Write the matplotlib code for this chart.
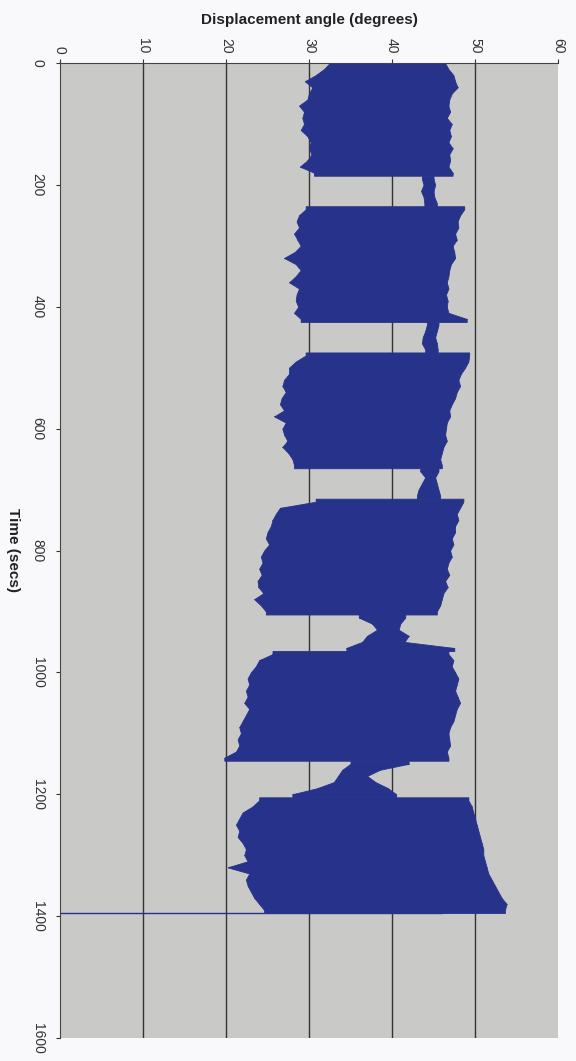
import numpy as np
import matplotlib.pyplot as plt

plt.rcParams['font.family'] = ['Liberation Sans', 'DejaVu Sans']

# Envelope of the oscillating trace, read every 10 s (degrees)
time = list(range(0, 1400, 10))

low = [
    # block 1 (0-180)
    32.5, 31.8, 30.8, 29.5, 30.4, 30.0, 29.8, 28.8, 29.4, 29.2,
    29.4, 29.0, 29.8, 30.2, 30.0, 30.3, 29.8, 28.9, 30.6,
    # settle (190-230)
    43.6, 43.8, 43.5, 43.8, 43.9,
    # block 2 (240-420)
    29.6, 28.8, 28.5, 28.8, 28.2, 28.6, 29.0, 28.3, 27.0, 28.4,
    29.0, 28.4, 27.6, 28.8, 28.5, 28.4, 28.7, 28.2, 29.0,
    # settle (430-470)
    44.2, 44.0, 43.7, 43.6, 44.0,
    # block 3 (480-660)
    29.6, 28.4, 27.6, 27.6, 27.0, 26.8, 27.2, 26.7, 26.5, 27.0,
    25.8, 27.2, 26.8, 27.0, 27.4, 26.8, 27.5, 28.0, 28.2,
    # settle (670-710)
    43.4, 44.0, 43.6, 43.2, 43.0,
    # block 4 (720-900)
    30.8, 26.5, 26.0, 25.6, 25.4, 25.0, 24.8, 25.2, 24.6, 24.2,
    24.4, 24.0, 24.3, 23.8, 23.9, 24.5, 23.4, 24.2, 24.8,
    # settle (910-960)
    36.0, 37.6, 38.2, 37.0, 36.4, 34.5,
    # block 5 (970-1140)
    25.6, 24.0, 23.6, 23.0, 22.6, 22.8, 22.4, 22.6, 22.2, 22.8,
    22.4, 22.0, 21.6, 21.8, 21.4, 21.6, 21.2, 19.8,
    # settle (1150-1200)
    35.0, 34.0, 33.5, 33.0, 31.0, 28.0,
    # block 6 (1210-1390)
    24.0, 23.2, 22.0, 21.6, 21.2, 21.6, 21.4, 22.0, 22.4, 22.2,
    22.6, 20.2, 22.8, 22.4, 22.6, 23.0, 23.4, 24.0, 24.6,
]

high = [
    46.4, 46.8, 47.4, 47.6, 47.9, 47.2, 46.9, 46.8, 47.0, 46.6,
    47.2, 46.9, 47.1, 46.8, 47.3, 46.9, 47.0, 46.8, 47.3,
    45.0, 45.2, 45.0, 45.1, 45.4,
    48.7, 48.2, 47.9, 48.0, 47.6, 47.8, 47.3, 47.5, 47.6, 47.1,
    46.9, 46.8, 46.6, 46.8, 46.5, 46.7, 46.6, 46.8, 49.0,
    45.6, 45.4, 45.2, 45.4, 45.5,
    49.3, 49.2, 48.8, 48.3, 48.0, 48.2, 47.8, 47.6, 47.2, 46.9,
    47.0, 46.6, 46.5, 46.4, 46.6, 46.2, 46.0, 45.8, 46.0,
    45.6, 45.2, 45.4, 45.6, 45.8,
    48.6, 48.2, 47.8, 48.0, 47.6, 47.6, 47.2, 47.4, 47.0, 47.2,
    46.8, 46.6, 46.9, 46.4, 46.7, 46.2, 46.0, 45.8, 45.4,
    41.6, 41.0, 40.8, 42.0, 41.5, 47.5,
    46.8, 47.4, 47.2, 47.6, 48.0, 47.8, 47.6, 47.9, 48.2, 47.8,
    47.6, 47.4, 47.0, 46.8, 46.9, 47.0, 46.6, 46.8,
    42.0, 38.5, 37.0, 38.0, 39.5, 40.5,
    49.2, 49.6, 49.8, 50.0, 50.2, 50.4, 50.6, 50.8, 51.0, 51.0,
    51.2, 51.4, 51.6, 52.0, 52.4, 52.8, 53.2, 53.8, 53.6,
]

# start times of the oscillating blocks and of the settling phases
segment_starts = [0, 190, 240, 430, 480, 670, 720, 910, 970, 1150, 1210]

# end of recording: trace drops to zero
end_time = 1395
end_values = [46.0, 0.0]

x_ticks = [0, 10, 20, 30, 40, 50, 60]
y_ticks = [0, 200, 400, 600, 800, 1000, 1200, 1400, 1600]

blue = '#27328a'
grey = '#333333'

fig = plt.figure(figsize=(5.76, 10.61), dpi=100, facecolor='#f9f9fb')
ax = fig.add_axes([60 / 576, 23 / 1061, 498 / 576, 975 / 1061])
ax.set_facecolor('#c9c9c7')

# body of the oscillation, each phase filled on its own so the edges stay flat
t_arr = np.array(time)
lo_arr = np.array(low)
hi_arr = np.array(high)
bounds = segment_starts + [time[-1] + 10]
for a, b in zip(bounds[:-1], bounds[1:]):
    m = (t_arr >= a) & (t_arr < b)
    ts = np.concatenate([[max(t_arr[m][0] - 5, 0)], t_arr[m], [t_arr[m][-1] + 5]])
    ls = np.concatenate([[lo_arr[m][0]], lo_arr[m], [lo_arr[m][-1]]])
    hs = np.concatenate([[hi_arr[m][0]], hi_arr[m], [hi_arr[m][-1]]])
    ax.fill_betweenx(ts, ls, hs, color=blue, lw=0.6, edgecolor=blue)
ax.hlines(time, low, high, color=blue, lw=0.8)
ax.plot(end_values, [end_time, end_time], color=blue, lw=1.0)

ax.set_xlim(0, 60)
ax.set_ylim(1600, 0)
ax.set_xticks(x_ticks)
ax.set_yticks(y_ticks)
ax.xaxis.tick_top()
ax.tick_params(axis='x', labelrotation=-90, labelsize=10, length=3,
               color=grey, labelcolor=grey, pad=4)
ax.tick_params(axis='y', labelrotation=-90, labelsize=10, length=3,
               color=grey, labelcolor=grey, pad=8)
for lab in ax.get_yticklabels():
    lab.set_va('center')
for v in x_ticks[1:-1]:
    ax.axvline(v, color=grey, lw=1.0, zorder=0.5)

for side in ['right', 'bottom']:
    ax.spines[side].set_visible(False)
ax.spines['left'].set_color('#444444')
ax.spines['top'].set_color('#444444')

fig.text(309 / 576, 1 - 20 / 1061, 'Displacement angle (degrees)',
         ha='center', va='center', fontsize=11, fontweight='bold', color='#222222')
fig.text(13 / 576, 1 - 550 / 1061, 'Time (secs)', rotation=-90,
         ha='center', va='center', fontsize=11, fontweight='bold', color='#222222')

fig.savefig('out.png', dpi=100, facecolor=fig.get_facecolor())
